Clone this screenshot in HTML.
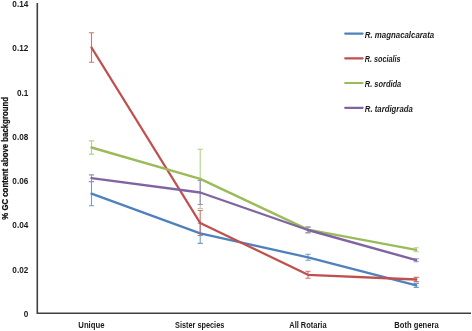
<!DOCTYPE html><html><head><meta charset="utf-8"><style>html,body{margin:0;padding:0;background:#fff;}svg{display:block;will-change:transform;}text{font-family:"Liberation Sans",sans-serif;}</style></head><body>
<svg width="472" height="331" viewBox="0 0 472 331">
<rect width="472" height="331" fill="#fff"/>
<path d="M37.3 3V314.0M36.5 313.2H471" stroke="#404040" stroke-width="1.6" fill="none"/>
<text transform="translate(28.3,317.00) scale(0.91,1)" font-size="9" font-weight="bold" fill="#1a1a1a" text-anchor="end">0</text>
<text transform="translate(28.3,272.71) scale(0.91,1)" font-size="9" font-weight="bold" fill="#1a1a1a" text-anchor="end">0.02</text>
<text transform="translate(28.3,228.43) scale(0.91,1)" font-size="9" font-weight="bold" fill="#1a1a1a" text-anchor="end">0.04</text>
<text transform="translate(28.3,184.14) scale(0.91,1)" font-size="9" font-weight="bold" fill="#1a1a1a" text-anchor="end">0.06</text>
<text transform="translate(28.3,139.86) scale(0.91,1)" font-size="9" font-weight="bold" fill="#1a1a1a" text-anchor="end">0.08</text>
<text transform="translate(28.3,95.57) scale(0.91,1)" font-size="9" font-weight="bold" fill="#1a1a1a" text-anchor="end">0.1</text>
<text transform="translate(28.3,51.29) scale(0.91,1)" font-size="9" font-weight="bold" fill="#1a1a1a" text-anchor="end">0.12</text>
<text transform="translate(28.3,7.00) scale(0.91,1)" font-size="9" font-weight="bold" fill="#1a1a1a" text-anchor="end">0.14</text>
<text x="78.35" y="328.1" font-size="8.3" font-weight="bold" fill="#1a1a1a" textLength="26.1" lengthAdjust="spacingAndGlyphs">Unique</text>
<text x="175.10" y="328.1" font-size="8.3" font-weight="bold" fill="#1a1a1a" textLength="49.2" lengthAdjust="spacingAndGlyphs">Sister species</text>
<text x="289.25" y="328.1" font-size="8.3" font-weight="bold" fill="#1a1a1a" textLength="37.3" lengthAdjust="spacingAndGlyphs">All Rotaria</text>
<text x="394.35" y="328.1" font-size="8.3" font-weight="bold" fill="#1a1a1a" textLength="44.3" lengthAdjust="spacingAndGlyphs">Both genera</text>
<text transform="translate(7.8,219.7) rotate(-90)" x="0" y="0" font-size="9.8" font-weight="bold" fill="#111" stroke="#111" stroke-width="0.25" textLength="122.7" lengthAdjust="spacingAndGlyphs">% GC content above background</text>
<path d="M91.5 181.7V205.7M88.9 181.7h5.2M88.9 205.7h5.2" stroke="#6C9ED4" stroke-width="1.1" fill="none"/>
<path d="M200.2 223.2V243.4M197.6 223.2h5.2M197.6 243.4h5.2" stroke="#6C9ED4" stroke-width="1.1" fill="none"/>
<path d="M308.0 254.3V260.3M305.4 254.3h5.2M305.4 260.3h5.2" stroke="#6C9ED4" stroke-width="1.1" fill="none"/>
<path d="M416.2 283.4V287.4M413.6 283.4h5.2M413.6 287.4h5.2" stroke="#6C9ED4" stroke-width="1.1" fill="none"/>
<path d="M91.5 32.7V62.3M88.9 32.7h5.2M88.9 62.3h5.2" stroke="#D2716E" stroke-width="1.1" fill="none"/>
<path d="M200.2 210.5V235.5M197.6 210.5h5.2M197.6 235.5h5.2" stroke="#D2716E" stroke-width="1.1" fill="none"/>
<path d="M308.0 271.3V278.3M305.4 271.3h5.2M305.4 278.3h5.2" stroke="#D2716E" stroke-width="1.1" fill="none"/>
<path d="M416.2 277.4V281.6M413.6 277.4h5.2M413.6 281.6h5.2" stroke="#D2716E" stroke-width="1.1" fill="none"/>
<path d="M91.5 140.9V154.1M88.9 140.9h5.2M88.9 154.1h5.2" stroke="#B5D08A" stroke-width="1.1" fill="none"/>
<path d="M200.2 149.2V208.6M197.6 149.2h5.2M197.6 208.6h5.2" stroke="#B5D08A" stroke-width="1.1" fill="none"/>
<path d="M308.0 226.7V232.5M305.4 226.7h5.2M305.4 232.5h5.2" stroke="#B5D08A" stroke-width="1.1" fill="none"/>
<path d="M416.2 247.8V251.8M413.6 247.8h5.2M413.6 251.8h5.2" stroke="#B5D08A" stroke-width="1.1" fill="none"/>
<path d="M91.5 174.9V181.5M88.9 174.9h5.2M88.9 181.5h5.2" stroke="#A08BC0" stroke-width="1.1" fill="none"/>
<path d="M200.2 180.5V204.5M197.6 180.5h5.2M197.6 204.5h5.2" stroke="#A08BC0" stroke-width="1.1" fill="none"/>
<path d="M308.0 227.1V232.9M305.4 227.1h5.2M305.4 232.9h5.2" stroke="#A08BC0" stroke-width="1.1" fill="none"/>
<path d="M416.2 258.7V261.7M413.6 258.7h5.2M413.6 261.7h5.2" stroke="#A08BC0" stroke-width="1.1" fill="none"/>
<polyline points="91.5,193.7 200.2,233.3 308.0,257.3 416.2,285.4" fill="none" stroke="#4F81BD" stroke-width="2.35" stroke-linejoin="round" stroke-linecap="round"/>
<polyline points="91.5,47.5 200.2,223.0 308.0,274.8 416.2,279.5" fill="none" stroke="#C0504D" stroke-width="2.35" stroke-linejoin="round" stroke-linecap="round"/>
<polyline points="91.5,147.5 200.2,178.9 308.0,229.6 416.2,249.8" fill="none" stroke="#9BBB59" stroke-width="2.35" stroke-linejoin="round" stroke-linecap="round"/>
<polyline points="91.5,178.2 200.2,192.5 308.0,230.0 416.2,260.2" fill="none" stroke="#8064A2" stroke-width="2.35" stroke-linejoin="round" stroke-linecap="round"/>
<line x1="345.2" y1="33.6" x2="362.6" y2="33.6" stroke="#4F81BD" stroke-width="2.2" stroke-linecap="round"/>
<text x="364.8" y="37.5" font-size="8.6" font-style="italic" font-weight="bold" fill="#1a1a1a" textLength="69.4" lengthAdjust="spacingAndGlyphs">R. magnacalcarata</text>
<line x1="345.2" y1="58.3" x2="362.6" y2="58.3" stroke="#C0504D" stroke-width="2.2" stroke-linecap="round"/>
<text x="364.8" y="62.2" font-size="8.6" font-style="italic" font-weight="bold" fill="#1a1a1a" textLength="35.8" lengthAdjust="spacingAndGlyphs">R. socialis</text>
<line x1="345.2" y1="83.0" x2="362.6" y2="83.0" stroke="#9BBB59" stroke-width="2.2" stroke-linecap="round"/>
<text x="364.8" y="86.9" font-size="8.6" font-style="italic" font-weight="bold" fill="#1a1a1a" textLength="36.4" lengthAdjust="spacingAndGlyphs">R. sordida</text>
<line x1="345.2" y1="107.8" x2="362.6" y2="107.8" stroke="#8064A2" stroke-width="2.2" stroke-linecap="round"/>
<text x="364.8" y="111.7" font-size="8.6" font-style="italic" font-weight="bold" fill="#1a1a1a" textLength="48.0" lengthAdjust="spacingAndGlyphs">R. tardigrada</text>
</svg></body></html>
